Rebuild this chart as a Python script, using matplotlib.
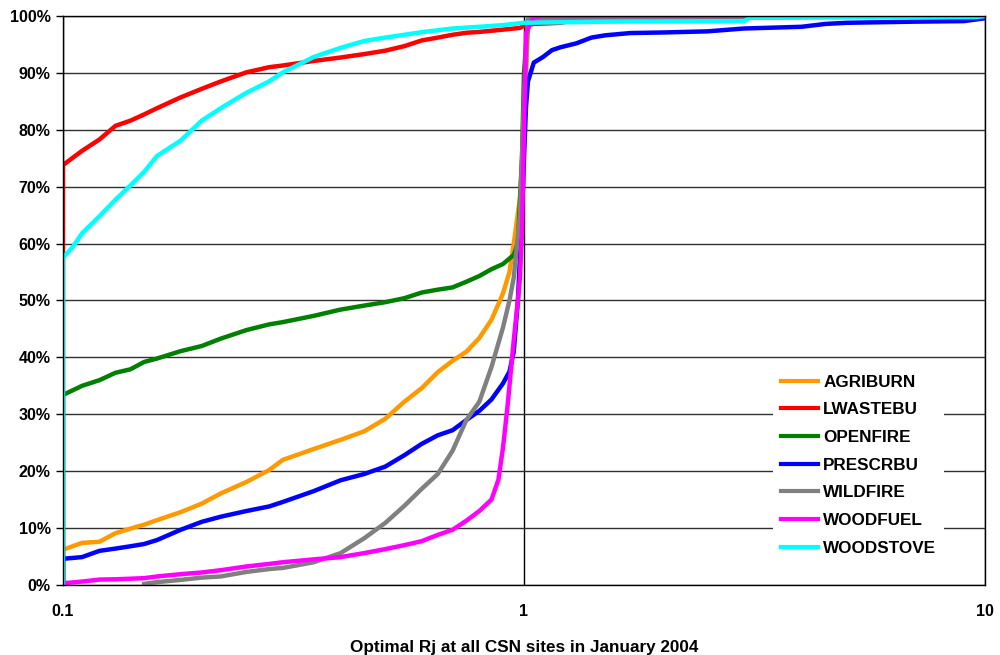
import numpy as np
import matplotlib.pyplot as plt
from matplotlib.ticker import FixedLocator, FuncFormatter, NullLocator

plt.rcParams['font.family'] = ['Liberation Sans', 'DejaVu Sans']
plt.rcParams['font.weight'] = 'bold'

labels = ['AGRIBURN', 'LWASTEBU', 'OPENFIRE', 'PRESCRBU', 'WILDFIRE', 'WOODFUEL', 'WOODSTOVE']
colors = ['#FF9900', '#FF0000', '#008000', '#0000FF', '#808080', '#FF00FF', '#00FFFF']

# cumulative fraction (%) of sites vs optimal Rj
agri_x = [0.1, 0.1, 0.11, 0.12, 0.13, 0.14, 0.15, 0.16, 0.18, 0.2, 0.22, 0.25, 0.28, 0.3, 0.35, 0.4, 0.45,
          0.5, 0.55, 0.6, 0.65, 0.7, 0.75, 0.8, 0.85, 0.9, 0.93, 0.95, 0.98, 1.0, 1.02, 1.05, 1.1, 10]
agri_y = [0, 6.2, 7.4, 7.6, 9.1, 9.9, 10.6, 11.4, 12.8, 14.3, 16.1, 18.1, 20.2, 22, 23.9, 25.5, 27,
          29.2, 32.2, 34.6, 37.4, 39.4, 41, 43.4, 46.6, 51.2, 55, 60, 68, 80, 98, 99.5, 100, 100]

lwaste_x = [0.1, 0.1, 0.11, 0.12, 0.13, 0.14, 0.15, 0.16, 0.18, 0.2, 0.22, 0.25, 0.28, 0.3, 0.35, 0.4, 0.45,
            0.5, 0.55, 0.6, 0.65, 0.7, 0.75, 0.8, 0.9, 0.98, 1.0, 1.05, 1.2, 1.3, 2, 3, 5, 6.2, 10]
lwaste_y = [0, 73.8, 76.3, 78.3, 80.7, 81.6, 82.7, 83.8, 85.7, 87.2, 88.5, 90.1, 91, 91.3, 92.1, 92.7, 93.3,
            93.9, 94.7, 95.7, 96.2, 96.7, 97.05, 97.2, 97.6, 97.9, 98.3, 98.6, 98.8, 99.3, 99.5, 99.7, 99.9, 100, 100]

open_x = [0.1, 0.1, 0.11, 0.12, 0.13, 0.14, 0.15, 0.16, 0.18, 0.2, 0.22, 0.25, 0.28, 0.3, 0.35, 0.4, 0.45,
          0.5, 0.55, 0.6, 0.65, 0.7, 0.75, 0.8, 0.85, 0.9, 0.95, 0.97, 0.99, 1.0, 1.02, 1.1, 1.3, 10]
open_y = [0, 33.4, 35.0, 36, 37.3, 37.9, 39.2, 39.8, 41.1, 42, 43.3, 44.8, 45.8, 46.2, 47.3, 48.4, 49.1,
          49.7, 50.4, 51.4, 51.9, 52.3, 53.3, 54.3, 55.5, 56.4, 58, 60, 75, 90, 99.3, 99.8, 100, 100]

presc_x = [0.1, 0.1, 0.11, 0.12, 0.13, 0.14, 0.15, 0.16, 0.18, 0.2, 0.22, 0.25, 0.28, 0.3, 0.35, 0.4, 0.45,
           0.5, 0.55, 0.6, 0.65, 0.7, 0.75, 0.8, 0.85, 0.9, 0.93, 0.95, 0.97, 0.99, 1.0, 1.01, 1.02, 1.05,
           1.1, 1.15, 1.2, 1.3, 1.4, 1.5, 1.7, 2, 2.5, 3, 4, 4.5, 5, 7, 9, 10]
presc_y = [0, 4.6, 4.9, 6, 6.4, 6.8, 7.2, 7.9, 9.7, 11.1, 12.0, 13.0, 13.8, 14.6, 16.5, 18.4, 19.5,
           20.8, 22.8, 24.8, 26.3, 27.2, 29, 30.6, 32.6, 35.4, 37.5, 41, 50, 65, 75, 84, 88.5, 91.8,
           92.8, 94, 94.5, 95.2, 96.2, 96.6, 97, 97.1, 97.3, 97.8, 98.1, 98.6, 98.8, 99, 99.1, 99.6]

wild_x = [0.15, 0.16, 0.18, 0.2, 0.22, 0.25, 0.28, 0.3, 0.35, 0.4, 0.45, 0.5, 0.55, 0.6, 0.65, 0.7, 0.75,
          0.8, 0.85, 0.9, 0.93, 0.95, 0.98, 1.0, 1.02, 3.4, 3.5, 10]
wild_y = [0.2, 0.5, 0.9, 1.3, 1.5, 2.3, 2.8, 3.0, 4.0, 5.6, 8.2, 10.9, 13.9, 16.9, 19.5, 23.6, 29,
          32.2, 38.3, 45.2, 50, 54, 65, 85, 99.5, 99.8, 100, 100]

fuel_x = [0.1, 0.11, 0.12, 0.13, 0.14, 0.15, 0.16, 0.18, 0.2, 0.22, 0.25, 0.28, 0.3, 0.35, 0.4, 0.45, 0.5,
          0.55, 0.6, 0.65, 0.7, 0.75, 0.8, 0.85, 0.88, 0.9, 0.92, 0.93, 0.95, 0.97, 0.98, 0.99, 1.0, 1.01,
          1.05, 1.1, 10]
fuel_y = [0.3, 0.6, 0.95, 1.0, 1.1, 1.2, 1.5, 1.9, 2.2, 2.6, 3.25, 3.7, 4.0, 4.5, 4.9, 5.6, 6.3,
          7.0, 7.7, 8.8, 9.7, 11.3, 13, 15, 18.5, 24, 31, 35, 43, 50, 54, 62, 80, 97,
          99.8, 100, 100]

stove_x = [0.1, 0.1, 0.105, 0.11, 0.12, 0.13, 0.14, 0.15, 0.16, 0.18, 0.2, 0.22, 0.25, 0.28, 0.3, 0.35,
           0.4, 0.45, 0.5, 0.55, 0.6, 0.7, 0.8, 0.9, 1.0, 1.5, 3, 3.1, 9.5, 10]
stove_y = [0, 57.5, 59.4, 61.8, 64.8, 67.7, 70.2, 72.6, 75.4, 78.1, 81.6, 83.8, 86.5, 88.5, 90.1, 92.8,
           94.4, 95.6, 96.2, 96.7, 97.15, 97.8, 98.1, 98.4, 98.8, 99.0, 99.1, 99.7, 99.8, 100]

series = [(agri_x, agri_y), (lwaste_x, lwaste_y), (open_x, open_y), (presc_x, presc_y),
          (wild_x, wild_y), (fuel_x, fuel_y), (stove_x, stove_y)]

fig, ax = plt.subplots(figsize=(10, 6.55), dpi=100)
fig.subplots_adjust(left=0.063, right=0.985, top=0.9756, bottom=0.1069)

for (xs, ys), lab, c in zip(series, labels, colors):
    ax.plot(xs, ys, color=c, lw=3.2, label=lab, solid_joinstyle='round')

ax.set_xscale('log')
ax.set_xlim(0.1, 10)
ax.set_ylim(0, 100)
ax.xaxis.set_major_locator(FixedLocator([0.1, 1, 10]))
ax.xaxis.set_minor_locator(NullLocator())
ax.xaxis.set_major_formatter(FuncFormatter(lambda v, p: f'{v:g}'))
ax.set_yticks(np.arange(0, 101, 10))
ax.yaxis.set_major_formatter(FuncFormatter(lambda v, p: f'{v:.0f}%'))

ax.grid(axis='y', color='#303030', lw=1)
ax.grid(axis='x', color='black', lw=1)
ax.set_axisbelow(True)
for s in ax.spines.values():
    s.set_color('black')
    s.set_linewidth(1)

ax.tick_params(axis='y', length=5, width=1, pad=4, labelsize=11.5)
ax.tick_params(axis='x', length=0, pad=14, labelsize=11.5)
ax.set_xlabel('Optimal Rj at all CSN sites in January 2004', fontsize=12.3, fontweight='bold', labelpad=15)

leg = ax.legend(loc='upper left', bbox_to_anchor=(0.770, 0.383), frameon=True, fancybox=False,
                facecolor='white', edgecolor='none', framealpha=1, fontsize=12.3,
                handlelength=2.2, handletextpad=0.3, labelspacing=0.74, borderpad=0.45,
                borderaxespad=0)
for h in leg.get_lines():
    h.set_linewidth(3)

fig.savefig('out.png', dpi=100)
